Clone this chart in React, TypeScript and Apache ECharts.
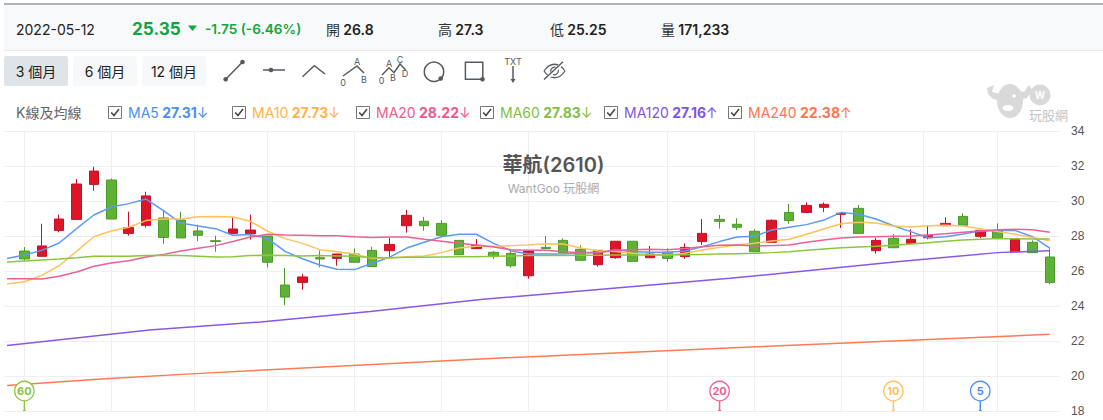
import React, { useEffect, useRef } from "react";
import * as echarts from "echarts";

const FONT = 'Inter, "Noto Sans CJK TC", sans-serif';

// [open, close, low, high], first trading day shown is index 1
const candles = [
  [27.14, 26.69, 26.59, 27.37], [26.84, 27.43, 26.84, 28.7], [28.32, 28.97, 28.21, 29.22], [28.95, 30.97, 28.95, 31.26],
  [30.95, 31.71, 30.59, 31.96], [31.2, 28.97, 28.97, 31.28], [28.15, 28.48, 28.02, 29.39], [28.61, 30.29, 28.48, 30.53],
  [29.03, 27.92, 27.56, 29.5], [28.91, 27.89, 27.89, 29.39], [28.29, 28.04, 27.7, 28.65], [27.73, 27.69, 27.1, 28.02],
  [28.15, 28.4, 28.15, 29.07], [28.13, 28.34, 27.79, 29.22], [28.0, 26.5, 26.21, 28.0], [25.2, 24.51, 24.04, 26.17],
  [25.35, 25.66, 24.93, 25.83], [26.76, 26.69, 26.21, 27.18], [26.72, 26.97, 26.3, 26.97], [26.97, 26.5, 26.5, 27.28],
  [27.18, 26.25, 26.25, 27.39], [27.16, 27.52, 26.78, 27.9], [28.59, 29.18, 28.19, 29.49], [28.84, 28.59, 28.3, 29.09],
  [28.72, 28.04, 28.04, 28.91], [27.75, 26.93, 26.93, 27.75], [27.28, 27.47, 27.28, 27.83], [27.07, 26.82, 26.7, 27.14],
  [27.01, 26.3, 26.19, 27.14], [25.73, 27.14, 25.56, 27.2], [27.35, 27.28, 27.28, 28.0], [27.75, 27.05, 27.05, 27.87],
  [27.24, 26.61, 26.61, 27.47], [26.36, 27.18, 26.25, 27.18], [26.76, 27.7, 26.7, 27.7], [27.7, 26.55, 26.55, 27.7],
  [26.76, 26.97, 26.76, 27.43], [27.07, 26.72, 26.53, 27.3], [26.82, 27.35, 26.7, 27.58], [27.68, 28.15, 27.49, 28.97],
  [28.95, 28.84, 28.42, 29.2], [28.67, 28.5, 28.34, 29.01], [28.27, 27.1, 27.1, 28.38], [27.64, 28.9, 27.64, 28.95],
  [29.35, 28.88, 28.7, 29.83], [29.35, 29.75, 29.35, 29.92], [29.64, 29.81, 29.37, 29.92], [29.24, 29.3, 28.46, 29.35],
  [29.58, 28.15, 28.15, 29.77], [27.16, 27.75, 26.99, 27.89], [27.87, 27.33, 27.33, 28.11], [27.58, 27.81, 27.58, 28.38],
  [27.9, 28.04, 27.81, 28.57], [28.59, 28.72, 28.59, 29.07], [29.12, 28.61, 28.61, 29.3], [27.98, 28.32, 27.89, 28.38],
  [28.3, 27.87, 27.87, 28.72], [27.09, 27.81, 27.09, 27.85], [27.64, 27.05, 27.05, 27.75], [26.8, 25.35, 25.25, 27.3],
];

const ma5 = [26.72, 26.91, 27.18, 27.6, 28.42, 29.2, 29.66, 29.85, 30.11, 29.45, 28.74, 28.57, 28.42, 28.04, 28.08, 27.85, 27.12, 26.7, 26.34, 26.1, 26.08, 26.44, 26.78, 27.31, 27.64, 27.96, 28.1, 28.1, 27.58, 27.16, 26.97, 26.97, 26.97, 27.03, 27.09, 27.2, 27.12, 27.07, 27.07, 27.14, 27.39, 27.68, 27.94, 27.98, 28.34, 28.5, 28.65, 28.91, 29.35, 29.24, 28.97, 28.59, 28.25, 27.9, 27.96, 28.11, 28.29, 28.32, 28.32, 27.96, 27.31];
const ma10 = [25.26, 25.39, 25.75, 26.3, 27.12, 27.96, 28.29, 28.5, 28.88, 28.97, 28.97, 29.1, 29.12, 29.09, 28.84, 28.27, 27.85, 27.58, 27.22, 27.1, 26.97, 26.72, 26.74, 26.82, 26.86, 27.05, 27.31, 27.41, 27.41, 27.45, 27.49, 27.56, 27.54, 27.31, 27.16, 27.12, 27.01, 26.95, 26.91, 27.01, 27.2, 27.35, 27.49, 27.58, 27.71, 27.81, 28.1, 28.4, 28.7, 28.78, 28.74, 28.57, 28.51, 28.59, 28.61, 28.57, 28.42, 28.25, 28.1, 27.92, 27.73];
const ma20 = [25.56, 25.56, 25.54, 25.7, 25.94, 26.27, 26.46, 26.59, 26.8, 26.95, 27.14, 27.3, 27.45, 27.68, 27.94, 28.1, 28.06, 28.04, 28.02, 28.02, 27.96, 27.92, 27.94, 27.94, 27.81, 27.7, 27.58, 27.49, 27.37, 27.22, 27.18, 27.18, 27.1, 27.05, 27.03, 27.18, 27.22, 27.24, 27.22, 27.28, 27.39, 27.47, 27.49, 27.43, 27.45, 27.49, 27.64, 27.77, 27.89, 27.94, 27.96, 27.98, 28.0, 28.06, 28.13, 28.21, 28.29, 28.36, 28.38, 28.36, 28.22];
const ma60 = [26.51, 26.57, 26.63, 26.69, 26.76, 26.84, 26.84, 26.84, 26.88, 26.9, 26.88, 26.84, 26.8, 26.82, 26.88, 26.9, 26.88, 26.86, 26.88, 26.86, 26.84, 26.76, 26.76, 26.78, 26.78, 26.8, 26.82, 26.82, 26.84, 26.86, 26.88, 26.88, 26.88, 26.9, 26.9, 26.91, 26.91, 26.91, 26.91, 26.93, 26.95, 26.97, 26.99, 27.01, 27.05, 27.1, 27.18, 27.26, 27.33, 27.37, 27.41, 27.47, 27.54, 27.62, 27.7, 27.77, 27.81, 27.85, 27.85, 27.83, 27.83];
const ma120Days = [0, 8.2, 14.6, 20.9, 27.4, 41.6, 51.2, 57, 60];
const ma120 = [21.74, 22.63, 23.09, 23.68, 24.38, 25.58, 26.53, 27.05, 27.16];
const ma240Days = [0, 5.4, 11.1, 28.4, 42.8, 60];
const ma240 = [19.46, 19.83, 20.15, 21.03, 21.66, 22.38];

const gridDays = [1, 6, 10.76, 15, 20, 25, 30, 38, 43, 48, 52.7, 57];

const pinDays = [1, 41, 51, 56];
const pinLabels = ["60", "20", "10", "5"];
const pinLevel = [19.14, 19.14, 19.14, 19.14];

const legendNames = ["MA5", "MA10", "MA20", "MA60", "MA120", "MA240"];
const legendValues = ["27.31", "27.73", "28.22", "27.83", "27.16", "22.38"];
const legendArrows = ["↓", "↓", "↓", "↓", "↑", "↑"];
const legendColors = ["#4c8ff0", "#ffb24d", "#ec5a8f", "#7fbf45", "#7f55e0", "#ff7350"];
const legendX = [108, 232, 356, 480, 604, 728];
const rangeLabels = ["3 個月", "6 個月", "12 個月"];

const MA5C = "#5a9bf5", MA10C = "#ffc25c", MA20C = "#ee5f95", MA60C = "#8cc63f", MA120C = "#8a58e0", MA240C = "#ff7a55";
const pinColors = [MA60C, MA20C, MA10C, "#4c8ff0"];
const INK = "#555a60";

function txt(x: number, y: number, text: string, font: number, fill: string, extra: any = {}) {
  return { type: "text", x, y, silent: true, style: { text, fontSize: font, fill, fontFamily: FONT, verticalAlign: "middle", ...extra } };
}
function stat(x: number, label: string, value: string) {
  return {
    type: "text", x, y: 29, silent: true,
    style: {
      text: `{l|${label}} {v|${value}}`, fontFamily: FONT, verticalAlign: "middle",
      rich: {
        l: { fontSize: 14, fill: "#333", fontFamily: FONT },
        v: { fontSize: 14, fontWeight: 600, fill: "#222", fontFamily: FONT },
      },
    },
  };
}
const lineEl = (x1: number, y1: number, x2: number, y2: number, stroke = INK, w = 1.5) => ({
  type: "line", silent: true, shape: { x1, y1, x2, y2 }, style: { stroke, lineWidth: w },
});
const dot = (cx: number, cy: number, r = 2.3, fill = INK) => ({ type: "circle", silent: true, shape: { cx, cy, r }, style: { fill } });
const poly = (points: number[][], stroke = INK) => ({
  type: "polyline", silent: true, shape: { points }, style: { stroke, lineWidth: 1.5, fill: "none" },
});
const small = (x: number, y: number, t: string) => txt(x, y, t, 9, INK, { align: "center" });

function buildGraphic() {
  const els: any[] = [
    { type: "rect", silent: true, shape: { x: 4, y: 3, width: 1099, height: 2 }, style: { fill: "#adb4bc" } },
    { type: "rect", silent: true, shape: { x: 4, y: 5, width: 1099, height: 45 }, style: { fill: "#f7f9fb" } },
    { type: "rect", silent: true, shape: { x: 4, y: 50, width: 1099, height: 1 }, style: { fill: "#e6e9ec" } },
    txt(16, 29, "2022-05-12", 14, "#222"),
    txt(132, 28, "25.35", 17.2, "#12a53f", { fontWeight: 700 }),
    { type: "polygon", silent: true, shape: { points: [[188, 25.5], [197, 25.5], [192.5, 31]] }, style: { fill: "#12a53f" } },
    txt(205, 29, "-1.75 (-6.46%)", 13.6, "#12a53f", { fontWeight: 600 }),
    stat(326, "開", "26.8"),
    stat(438, "高", "27.3"),
    stat(550, "低", "25.25"),
    stat(661, "量", "171,233"),
  ];
  // range buttons
  rangeLabels.forEach((t, i) => {
    const x = 4 + i * 69;
    els.push({
      type: "rect", silent: true, shape: { x, y: 56, width: 64, height: 30, r: 2 },
      style: { fill: i === 0 ? "#dfe4e8" : "#f7f8f9" },
    });
    els.push(txt(x + 32, 71, t, 14, "#222", { align: "center" }));
  });
  // drawing tools
  els.push(
    lineEl(225.7, 79.3, 242.5, 62), dot(225.7, 79.3), dot(242.5, 62),
    lineEl(263, 70, 285, 70), dot(271, 70),
    poly([[302.5, 76.7], [314.3, 65.7], [325, 74]]),
    poly([[343, 76], [357, 66], [364, 73]]), small(357, 61, "A"), small(343, 82, "0"), small(364, 79, "B"),
    poly([[382, 75], [389, 67.7], [394, 72.7], [400, 64], [405.7, 70]]),
    small(389, 63.5, "A"), small(400, 59.5, "C"), small(393, 77.3, "B"), small(405, 73.7, "D"), small(381.5, 80, "0"),
    { type: "circle", silent: true, shape: { cx: 434, cy: 71.7, r: 9.7 }, style: { stroke: INK, lineWidth: 1.5, fill: "none" } },
    dot(440.7, 78.5),
    { type: "rect", silent: true, shape: { x: 465.4, y: 62.3, width: 17.4, height: 17 }, style: { stroke: INK, lineWidth: 1.5, fill: "none" } },
    dot(482.5, 79.3),
    small(513, 61.7, "TXT"),
    lineEl(513, 66, 513, 81),
    { type: "polygon", silent: true, shape: { points: [[510.5, 79], [515.5, 79], [513, 83]] }, style: { fill: INK } },
    { type: "bezierCurve", silent: true, shape: { x1: 544, y1: 71, x2: 565, y2: 71, cpx1: 550, cpy1: 62, cpx2: 559, cpy2: 62 }, style: { stroke: INK, lineWidth: 1.3, fill: "none" } },
    { type: "bezierCurve", silent: true, shape: { x1: 544, y1: 71, x2: 565, y2: 71, cpx1: 550, cpy1: 80, cpx2: 559, cpy2: 80 }, style: { stroke: INK, lineWidth: 1.3, fill: "none" } },
    { type: "circle", silent: true, shape: { cx: 554.5, cy: 71, r: 3.8 }, style: { stroke: INK, lineWidth: 1.2, fill: "none" } },
    lineEl(545, 80, 563.5, 62, "#ffffff", 3.2),
    lineEl(544, 79.5, 563, 61.7, INK, 1.4),
  );
  // MA legend
  els.push(txt(16, 112.5, "K線及均線", 14, "#666"));
  legendNames.forEach((n, i) => {
    const x = legendX[i];
    const c = legendColors[i];
    els.push({ type: "rect", silent: true, shape: { x: x + 0.5, y: 106.5, width: 13, height: 12 }, style: { stroke: "#777", lineWidth: 1, fill: "#fff" } });
    els.push(poly([[x + 3.2, 112.5], [x + 6, 115.5], [x + 11, 109]], "#444"));
    els.push({
      type: "text", x: x + 20, y: 112.5, silent: true,
      style: {
        text: `{a|${n}} {b|${legendValues[i]}}{a|${legendArrows[i]}}`, fontFamily: FONT, verticalAlign: "middle",
        rich: {
          a: { fontSize: 14, fill: c, fontFamily: FONT },
          b: { fontSize: 14, fontWeight: 700, fill: c, fontFamily: FONT },
        },
      },
    });
  });
  // watermark
  const W = "#d9d9d9";
  els.push(
    { type: "ellipse", silent: true, shape: { cx: 1010, cy: 101, rx: 13, ry: 17 }, style: { fill: W } },
    { type: "polygon", silent: true, shape: { points: [[987, 88], [994, 85], [992, 92], [1000, 94], [1005, 90], [1002, 101], [993, 99], [988, 94]] }, style: { fill: W } },
    { type: "polygon", silent: true, shape: { points: [[1015, 90], [1024, 92], [1029, 85], [1032, 90], [1027, 98], [1018, 101]] }, style: { fill: W } },
    { type: "circle", silent: true, shape: { cx: 1040, cy: 95, r: 10.5 }, style: { fill: W } },
    txt(1040, 95, "W", 10, "#fff", { align: "center", fontWeight: 700 }),
    { type: "ellipse", silent: true, shape: { cx: 1008, cy: 108, rx: 5.5, ry: 3 }, style: { fill: "#fff" } },
    { type: "circle", silent: true, shape: { cx: 1014, cy: 96, r: 1.8 }, style: { fill: "#fff" } },
    txt(1048.5, 115, "玩股網", 13, "#c4c4c4", { align: "center" }),
  );
  return els;
}

export default function App() {
  const ref = useRef<HTMLDivElement>(null);
  useEffect(() => {
    document.body.style.margin = "0";
    const chart = echarts.init(ref.current!, undefined, { renderer: "svg" });
    const days = ma5.map((_, i) => i);
    const ln = (name: string, xs: number[], ys: number[], color: string, z = 5) => ({
      type: "line", name, data: ys.map((v, i) => [xs[i], v]), showSymbol: false, symbol: "none",
      lineStyle: { color, width: 1.5 }, z, silent: true,
    });
    chart.setOption({
      animation: false,
      backgroundColor: "#fff",
      title: {
        text: "華航(2610)", subtext: "WantGoo 玩股網", left: 548.5, textAlign: "center", top: 150, itemGap: 7,
        textStyle: { fontSize: 20, fontWeight: 600, color: "#555", fontFamily: FONT },
        subtextStyle: { fontSize: 12, color: "#aaa", fontFamily: FONT },
      },
      grid: { left: 5, top: 131, width: 1054, height: 280, containLabel: false },
      xAxis: {
        type: "value", min: -0.115, max: 60.53,
        axisLine: { show: false }, axisLabel: { show: false },
        axisTick: { show: false, customValues: gridDays },
        splitLine: { show: true, customValues: gridDays, lineStyle: { color: "#efefef", width: 1 } },
      },
      yAxis: {
        type: "value", position: "right", min: 18, max: 34, interval: 2,
        axisLine: { show: false }, axisTick: { show: false },
        axisLabel: { color: "#555", fontSize: 12, margin: 12, fontFamily: '"Liberation Sans", sans-serif' },
        splitLine: { lineStyle: { color: "#efefef", width: 1 } },
      },
      series: [
        {
          type: "candlestick", name: "K", barWidth: 10, z: 2, silent: true,
          encode: { x: 0, y: [1, 2, 3, 4] },
          data: candles.map((c, i) => [i + 1, ...c]),
          itemStyle: { color: "#dc1626", color0: "#5fb236", borderColor: "#c4102a", borderColor0: "#4a9a2b", borderWidth: 1 },
        },
        ln("MA5", days, ma5, MA5C),
        ln("MA10", days, ma10, MA10C),
        ln("MA20", days, ma20, MA20C),
        ln("MA60", days, ma60, MA60C),
        ln("MA120", ma120Days, ma120, MA120C),
        ln("MA240", ma240Days, ma240, MA240C),
        {
          type: "custom", name: "pins", z: 6, silent: true, clip: false,
          data: pinDays.map((d, i) => [d, pinLevel[i], i]),
          encode: { x: 0, y: 1 },
          renderItem: (_: any, api: any) => {
            const p = api.coord([api.value(0), api.value(1)]);
            const b = api.coord([api.value(0), 18]);
            const i = api.value(2);
            const c = pinColors[i];
            return {
              type: "group",
              children: [
                { type: "line", shape: { x1: p[0], y1: p[1] + 10, x2: b[0], y2: b[1] }, style: { stroke: c, lineWidth: 1.5 } },
                { type: "line", shape: { x1: b[0] - 1.5, y1: b[1] - 0.5, x2: b[0] + 1.5, y2: b[1] - 0.5 }, style: { stroke: c, lineWidth: 1 } },
                { type: "circle", shape: { cx: p[0], cy: p[1], r: 9.7 }, style: { fill: "#fff", stroke: c, lineWidth: 1.3 } },
                {
                  type: "text", x: p[0], y: p[1],
                  style: { text: pinLabels[i], fontSize: 11, fontWeight: 700, fill: c, align: "center", verticalAlign: "middle", fontFamily: FONT },
                },
              ],
            };
          },
        },
      ],
      graphic: { elements: buildGraphic() },
    });
    return () => chart.dispose();
  }, []);
  return <div ref={ref} style={{ width: 1103, height: 420 }} />;
}
